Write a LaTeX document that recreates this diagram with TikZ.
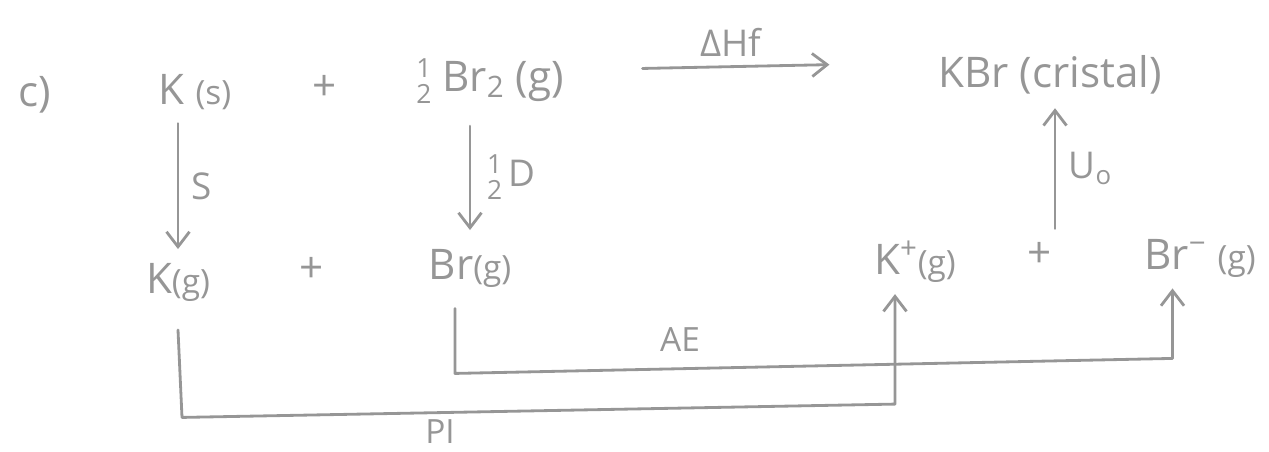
\documentclass[tikz,border=0pt]{standalone}
\usepackage{fontspec}
\setmainfont{Open Sans}
\usetikzlibrary{positioning, arrows.meta}
\definecolor{pencil}{RGB}{150,150,150}
\newcommand{\phase}[1]{{\fontsize{19}{22}\selectfont(#1)}}
\newcommand{\half}{{\fontsize{15}{16}\selectfont\begin{tabular}[c]{@{}c@{}}1\\[-1pt]2\end{tabular}}}

\begin{document}
\begin{tikzpicture}[
  font=\fontsize{24}{28}\selectfont,
  >={Straight Barb[length=3mm,width=4.6mm]},
  chem/.style={text=pencil, inner sep=2pt},
  lbl/.style={text=pencil, inner sep=1pt, font=\fontsize{21}{24}\selectfont},
  arr/.style={->, draw=pencil, line width=1.6pt, line cap=round, line join=round},
]
\useasboundingbox (0,0) rectangle (25.38,9.04);

% ---- top row ----
\node[chem] (part) at (0.7,7.14) {c)};
\node[chem] (ks) at (3.9,7.2) {K \phase{s}};
\node[chem] (plusa) at (6.5,7.28) {+};
\node[chem] (brtwo) at (9.8,7.34) {\half\ Br\textsubscript{2} (g)};
\node[chem] (kbr) at (21.0,7.54) {KBr (cristal)};

% ---- gas phase atoms ----
\node[chem] (kg) at (3.56,3.4) {K\phase{g}};
\node[chem] (plusb) at (6.24,3.64) {+};
\node[chem] (brg) at (9.4,3.68) {Br\phase{g}};

% ---- gas phase ions ----
\node[chem] (kp) at (18.3,3.8) {K\textsuperscript{+}\phase{g}};
\node[chem] (plusc) at (20.8,3.94) {+};
\node[chem] (brm) at (24.0,3.88) {Br\textsuperscript{−} \phase{g}};

% formation
\draw[arr, shorten <=1.5cm, shorten >=2.1cm] ([yshift=0.3cm]brtwo.east) -- node[lbl, above=4pt, xshift=-0.4cm] (hf) {ΔHf} ([yshift=0.25cm]kbr.west);

% sublimation and dissociation
\draw[arr, shorten <=0.2cm, shorten >=0.2cm] (kg.north |- ks.south) -- node[lbl, right=6pt] (sub) {S} (kg.north);
\draw[arr, shorten <=0.2cm, shorten >=0.3cm] (brg.north |- brtwo.south) -- node[lbl, right=8pt] (dis) {\half\,D} (brg.north);

% lattice energy
\draw[arr, shorten <=0.2cm, shorten >=0.2cm] ([xshift=1mm]kbr.south |- plusc.north) -- node[lbl, right=6pt] (lat) {U\textsubscript{o}} ([xshift=1mm]kbr.south);

% ionisation and electron affinity
\draw[arr] ([yshift=-0.5cm]kg.south) -- ++(0.08,-1.75) -- ([xshift=-0.4cm, yshift=-2.35cm]kp.south) -- ([xshift=-0.4cm, yshift=-0.15cm]kp.south);
\draw[arr] ([xshift=-0.3cm, yshift=-0.35cm]brg.south) -- ++(0,-1.3) -- ([xshift=-0.55cm, yshift=-1.55cm]brm.south) -- ([xshift=-0.55cm, yshift=-0.15cm]brm.south);
\node[lbl, font=\fontsize{19}{22}\selectfont] (ae) at (13.6,2.24) {AE};
\node[lbl, inner sep=0pt, font=\fontsize{19}{22}\selectfont] (pi) at (8.8,0.4) {PI};

\end{tikzpicture}
\end{document}
